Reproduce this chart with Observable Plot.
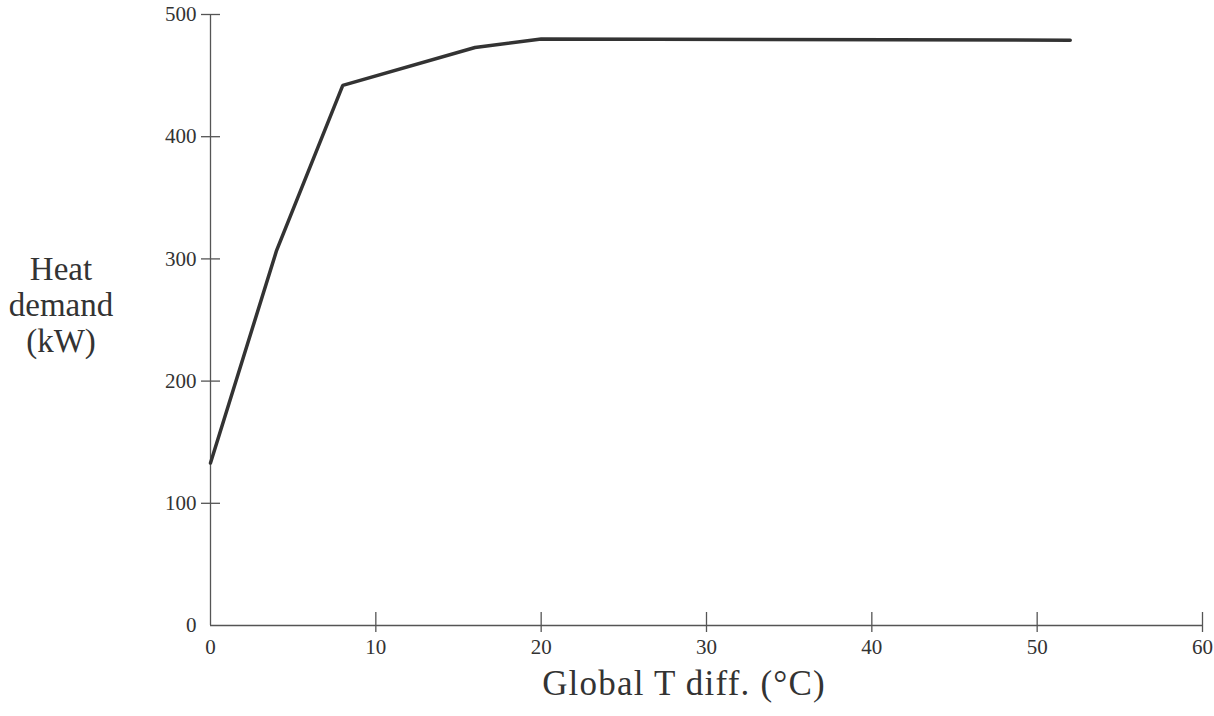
<!DOCTYPE html>
<html>
<head>
<meta charset="utf-8">
<script src="https://cdn.jsdelivr.net/npm/d3@7"></script>
<script src="https://cdn.jsdelivr.net/npm/@observablehq/plot@0.6"></script>
<style>
  html, body { margin: 0; padding: 0; background: #fff; }
  #wrap { position: relative; width: 1214px; height: 716px; font-family: "Liberation Serif", "DejaVu Serif", serif; color: #333; }
  #ylab { position: absolute; left: 0; width: 122px; top: 251px; text-align: center; font-size: 33px; line-height: 36px; }
  #xlab { position: absolute; left: 392px; width: 584px; top: 664px; text-align: center; font-size: 35px; letter-spacing: 1.2px; }
</style>
</head>
<body>
<div id="wrap">
  <div id="chart"></div>
  <div id="ylab">Heat<br>demand<br>(kW)</div>
  <div id="xlab">Global T diff. (°C)</div>
</div>
<script>
// Heat demand curve against global temperature difference
const tempDiff = [0, 4, 8, 16, 20, 52];
const heatDemand = [133, 307, 442, 473, 480, 479];
const xTicks = [0, 10, 20, 30, 40, 50, 60];
const yTicks = [0, 100, 200, 300, 400, 500];

const curve = tempDiff.map((t, i) => ({t, kw: heatDemand[i]}));
const axisColor = "#555";

const chart = Plot.plot({
  width: 1214,
  height: 716,
  marginLeft: 210,
  marginRight: 12,
  marginTop: 14,
  marginBottom: 91,
  style: {fontFamily: "'Liberation Serif', serif", fontSize: "21px", color: "#333", background: "white"},
  x: {domain: [0, 60]},
  y: {domain: [0, 500]},
  marks: [
    Plot.axisX(xTicks, {tickSize: 0, tickPadding: 14, label: null, fontSize: 21}),
    Plot.axisY(yTicks, {tickSize: 0, tickPadding: 14, label: null, fontSize: 21}),
    // axis lines
    Plot.ruleY([0], {stroke: axisColor, strokeWidth: 1.3}),
    Plot.ruleX([0], {stroke: axisColor, strokeWidth: 1.3}),
    // crossing tick marks
    Plot.ruleX(xTicks.slice(1), {x: d => d, y1: 0, y2: 0, insetTop: -13, insetBottom: -7, stroke: axisColor, strokeWidth: 1.3}),
    Plot.ruleY(yTicks.slice(1), {y: d => d, x1: 0, x2: 0, insetLeft: -9, insetRight: -10, stroke: axisColor, strokeWidth: 1.3}),
    // demand curve
    Plot.line(curve, {x: "t", y: "kw", stroke: "#333", strokeWidth: 3.5, strokeLinejoin: "miter"})
  ]
});
document.getElementById("chart").appendChild(chart);
</script>
</body>
</html>
